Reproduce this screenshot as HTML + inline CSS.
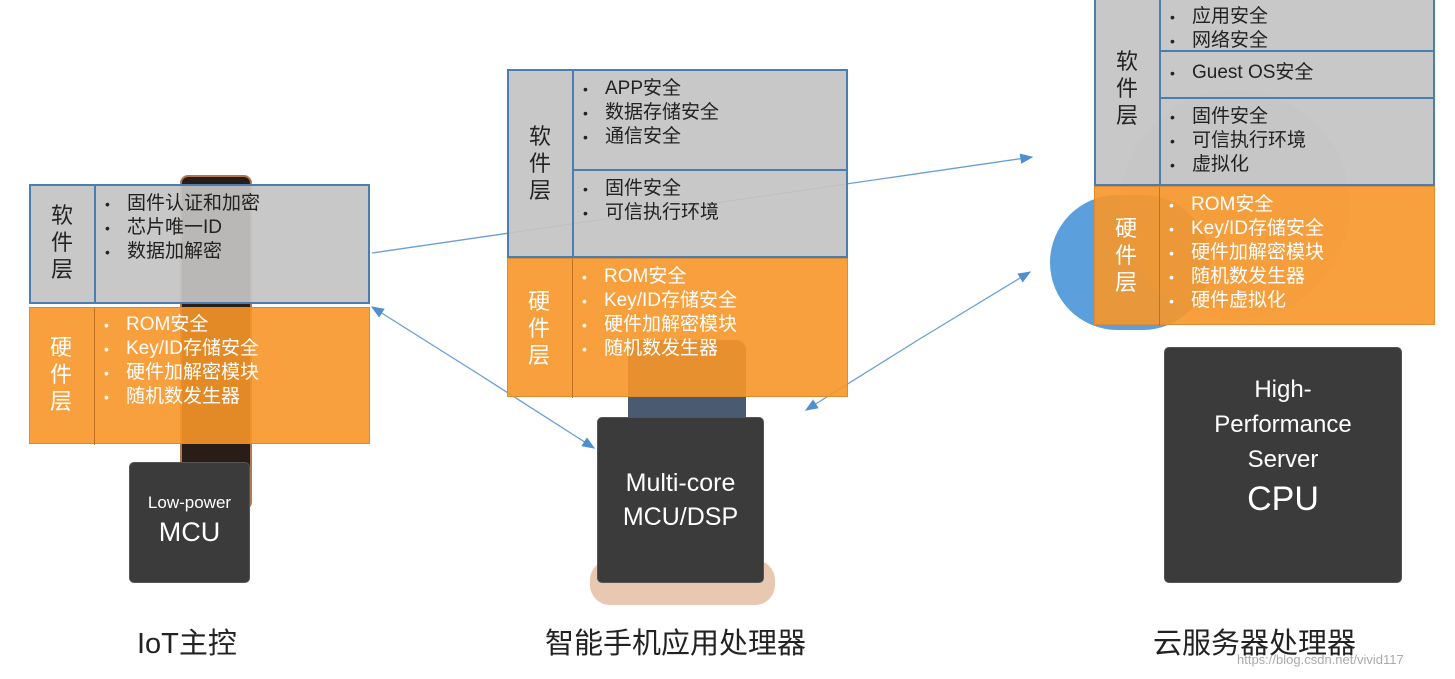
<!DOCTYPE html>
<html><head><meta charset="utf-8"><style>
body{margin:0;width:1455px;height:679px;background:#fff;position:relative;overflow:hidden;font-family:"Liberation Sans","Noto Sans CJK SC",sans-serif;}
.a{position:absolute;box-sizing:border-box;}
.sw{background:rgba(196,196,196,0.93);border:2px solid #4a7eb0;}
.hw{background:rgba(247,150,40,0.9);border:1px solid #e08a30;}
.v{position:absolute;text-align:center;font-size:22px;line-height:27px;}
ul{margin:0;padding:0;list-style:none;position:absolute;font-size:19px;line-height:23px;white-space:nowrap}
li:before{content:"•";display:inline-block;width:22px;font-size:14px;}
.sw ul,.sw .v{color:#222}.hw ul,.hw .v{color:#fff}
.chip{position:absolute;background:#3b3b3b;border-radius:5px;color:#fff;text-align:center;border:1px solid #555;box-sizing:border-box}
.lbl{position:absolute;font-size:29px;color:#222;top:620px}
</style></head><body>
<div class="a" style="left:180px;top:175px;width:72px;height:335px;background:#2a1d18;border-radius:8px;border:2px solid #b07a50"></div>
<div class="a" style="left:628px;top:340px;width:118px;height:260px;background:#4a5a70;border-radius:10px"></div>
<div class="a" style="left:590px;top:560px;width:185px;height:45px;background:#e8c8b0;border-radius:20px"></div>
<div class="a" style="left:1050px;top:195px;width:160px;height:135px;background:#5ba0dc;border-radius:70px"></div>
<div class="a" style="left:1120px;top:90px;width:230px;height:230px;background:#b9c6d2;border-radius:115px;opacity:.45"></div>

<svg class="a" style="left:0;top:0" width="1455" height="679">
<defs><marker id="m" markerWidth="10" markerHeight="8" refX="9" refY="4" orient="auto"><path d="M0,0L10,4L0,8z" fill="#4f8fd0"/></marker></defs>
<g stroke="#6a9fd6" stroke-width="1.3" fill="none">
<line x1="372" y1="253" x2="1032" y2="157" marker-end="url(#m)"/>
<line x1="480" y1="375" x2="372" y2="307" marker-end="url(#m)"/>
<line x1="480" y1="375" x2="594" y2="448" marker-end="url(#m)"/>
<line x1="918" y1="340" x2="806" y2="410" marker-end="url(#m)"/>
<line x1="918" y1="340" x2="1030" y2="272" marker-end="url(#m)"/>
</g></svg>

<div class="a sw" style="left:29px;top:184px;width:341px;height:120px">
<div class="a" style="left:63px;top:0;width:2px;height:116px;background:#4a7eb0"></div>
<div class="v" style="left:8px;top:16px;width:46px">软<br>件<br>层</div>
<ul style="left:74px;top:6px"><li>固件认证和加密</li><li>芯片唯一ID</li><li>数据加解密</li></ul></div>
<div class="a hw" style="left:29px;top:307px;width:341px;height:137px">
<div class="a" style="left:64px;top:0;width:1px;height:137px;background:#c07020"></div>
<div class="v" style="left:8px;top:26px;width:46px">硬<br>件<br>层</div>
<ul style="left:74px;top:5px"><li>ROM安全</li><li>Key/ID存储安全</li><li>硬件加解密模块</li><li>随机数发生器</li></ul></div>

<div class="a sw" style="left:507px;top:69px;width:341px;height:189px">
<div class="a" style="left:63px;top:0;width:2px;height:185px;background:#4a7eb0"></div>
<div class="a" style="left:63px;top:98px;width:274px;height:2px;background:#4a7eb0"></div>
<div class="v" style="left:8px;top:52px;width:46px">软<br>件<br>层</div>
<ul style="left:74px;top:6px"><li>APP安全</li><li>数据存储安全</li><li>通信安全</li></ul>
<ul style="left:74px;top:106px"><li>固件安全</li><li>可信执行环境</li></ul></div>
<div class="a hw" style="left:507px;top:258px;width:341px;height:139px">
<div class="a" style="left:64px;top:0;width:1px;height:139px;background:#c07020"></div>
<div class="v" style="left:8px;top:29px;width:46px">硬<br>件<br>层</div>
<ul style="left:74px;top:6px"><li>ROM安全</li><li>Key/ID存储安全</li><li>硬件加解密模块</li><li>随机数发生器</li></ul></div>

<div class="a sw" style="left:1094px;top:-4px;width:341px;height:190px">
<div class="a" style="left:63px;top:0;width:2px;height:186px;background:#4a7eb0"></div>
<div class="a" style="left:63px;top:52px;width:274px;height:2px;background:#4a7eb0"></div>
<div class="a" style="left:63px;top:99px;width:274px;height:2px;background:#4a7eb0"></div>
<div class="v" style="left:8px;top:50px;width:46px">软<br>件<br>层</div>
<ul style="left:74px;top:7px"><li>应用安全</li><li>网络安全</li></ul>
<ul style="left:74px;top:63px"><li>Guest OS安全</li></ul>
<ul style="left:74px;top:107px"><li>固件安全</li><li>可信执行环境</li><li>虚拟化</li></ul></div>
<div class="a hw" style="left:1094px;top:186px;width:341px;height:139px">
<div class="a" style="left:64px;top:0;width:1px;height:139px;background:#c07020"></div>
<div class="v" style="left:8px;top:28px;width:46px">硬<br>件<br>层</div>
<ul style="left:74px;top:6px"><li>ROM安全</li><li>Key/ID存储安全</li><li>硬件加解密模块</li><li>随机数发生器</li><li>硬件虚拟化</li></ul></div>

<div class="chip" style="left:129px;top:462px;width:121px;height:121px;padding-top:30px"><div style="font-size:17px">Low-power</div><div style="font-size:27px;margin-top:4px">MCU</div></div>
<div class="chip" style="left:597px;top:417px;width:167px;height:166px;padding-top:48px;font-size:25px;line-height:34px">Multi-core<br>MCU/DSP</div>
<div class="chip" style="left:1164px;top:347px;width:238px;height:236px;padding-top:24px;font-size:24px;line-height:35px">High-<br>Performance<br>Server<div style="font-size:34px;line-height:44px">CPU</div></div>

<div class="lbl" style="left:137px">IoT主控</div>
<div class="lbl" style="left:545px">智能手机应用处理器</div>
<div class="lbl" style="left:1153px">云服务器处理器</div>
<div class="a" style="left:1237px;top:652px;font-size:13px;color:#aaa">https://blog.csdn.net/vivid117</div>
</body></html>
